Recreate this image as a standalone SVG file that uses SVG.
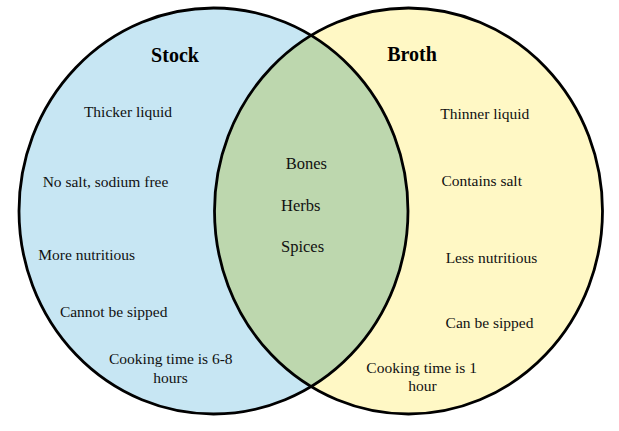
<svg xmlns="http://www.w3.org/2000/svg" width="619" height="431" viewBox="0 0 619 431">
<style>
.t{font-family:"Liberation Serif","Times New Roman",serif;font-size:15.5px;fill:#111;text-anchor:middle}
.c{font-family:"Liberation Serif","Times New Roman",serif;font-size:16.5px;fill:#111}
.h{font-family:"Liberation Serif","Times New Roman",serif;font-size:20px;font-weight:bold;fill:#000;text-anchor:middle}
.ring{fill:none;stroke:#000;stroke-width:2.8}
</style>
<defs>
<clipPath id="clipL"><ellipse cx="213.5" cy="211" rx="194.5" ry="203"/></clipPath>
</defs>
<rect width="619" height="431" fill="#fff"/>
<g id="stock-fill"><ellipse cx="213.5" cy="211" rx="194.5" ry="203" fill="#C7E6F3"/></g>
<g id="broth-fill"><ellipse cx="408.5" cy="211" rx="194" ry="203" fill="#FFF8C5"/></g>
<g id="overlap-fill"><ellipse cx="408.5" cy="211" rx="194" ry="203" fill="#BDD7AE" clip-path="url(#clipL)"/></g>
<g id="connectors"></g>
<g id="stock">
<ellipse class="ring" cx="213.5" cy="211" rx="194.5" ry="203"/>
<text class="h" x="175" y="62">Stock</text>
<text class="t" x="128" y="117">Thicker liquid</text>
<text class="t" x="105.5" y="187">No salt, sodium free</text>
<text class="t" x="86.7" y="260">More nutritious</text>
<text class="t" x="113.7" y="317">Cannot be sipped</text>
<text class="t" x="170.8" y="364">Cooking time is 6-8</text>
<text class="t" x="170.5" y="382.7">hours</text>
</g>
<g id="broth">
<ellipse class="ring" cx="408.5" cy="211" rx="194" ry="203"/>
<text class="h" x="412" y="61">Broth</text>
<text class="t" x="484.8" y="119.3">Thinner liquid</text>
<text class="t" x="481.7" y="185.7">Contains salt</text>
<text class="t" x="491.5" y="262.7">Less nutritious</text>
<text class="t" x="489.5" y="327.7">Can be sipped</text>
<text class="t" x="421.7" y="373.3">Cooking time is 1</text>
<text class="t" x="422.5" y="391">hour</text>
</g>
<g id="both">
<text class="c" x="285.7" y="169">Bones</text>
<text class="c" x="281" y="211">Herbs</text>
<text class="c" x="281" y="252">Spices</text>
</g>
</svg>
